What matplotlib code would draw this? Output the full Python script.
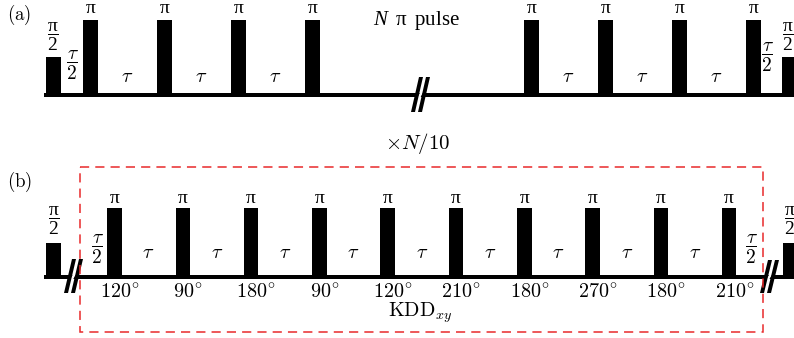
import matplotlib
matplotlib.use("Agg")
import matplotlib.pyplot as plt
from matplotlib.patches import Rectangle, Polygon

plt.rcParams['mathtext.fontset'] = 'cm'
plt.rcParams['font.family'] = 'serif'
# upright pi needs a unicode math font
plt.rcParams['mathtext.rm'] = 'Liberation Serif'
plt.rcParams['mathtext.it'] = 'Liberation Serif:italic'

# pulse counts shown on each side of the break in (a)
n_left_a = 4
n_right_a = 4
# KDD_xy phase of each pi pulse in (b)
kdd_phases = [120, 90, 180, 90, 120, 210, 180, 270, 180, 210]

W, H = 794, 338
fig = plt.figure(figsize=(W / 100, H / 100), dpi=100)
ax = fig.add_axes([0, 0, 1, 1])
ax.set_xlim(0, W)
ax.set_ylim(H, 0)
ax.axis('off')

FS = 14.5
RED = '#e8292b'


def pulse(x, base, h, w):
    ax.add_patch(Rectangle((x - w / 2, base - h), w, h, color='black', lw=0))


def baseline(x0, x1, base, t=4.4):
    ax.add_patch(Rectangle((x0, base - t / 2), x1 - x0, t, color='black', lw=0))


def brk(xb, ytop, ybot, dx=8, w=4, gap=7):
    # white gap first, then the two slanted strokes
    ax.add_patch(Polygon([(xb + w, ybot - 10), (xb + gap, ybot - 10),
                          (xb + gap + dx, ytop + 10), (xb + w + dx, ytop + 10)],
                         color='white', lw=0, zorder=3))
    for off in (0, gap):
        ax.add_patch(Polygon([(xb + off, ybot), (xb + off + w, ybot),
                              (xb + off + w + dx, ytop), (xb + off + dx, ytop)],
                             color='black', lw=0, zorder=4))


def txt(x, y, s, fs=FS, mf=None, **kw):
    kw.setdefault('ha', 'center')
    kw.setdefault('va', 'center')
    if mf:
        kw['math_fontfamily'] = mf
    ax.text(x, y, s, fontsize=fs, **kw)


PI = r'$\mathrm{\pi}$'
HALF_PI = r'$\dfrac{\mathrm{\pi}}{\mathrm{2}}$'
HALF_TAU = r'$\dfrac{\tau}{2}$'

# ---------------- (a) ----------------
base_a = 95
hpi_a, hhalf_a, w_a = 75, 38, 15
sp_a = 74
left_a = [90.5 + sp_a * k for k in range(n_left_a)]
right_a = [531.5 + sp_a * k for k in range(n_right_a)]

baseline(44, W, base_a)
pulse(53.5, base_a, hhalf_a, w_a)
pulse(789.5, base_a, hhalf_a, w_a)
for x in left_a + right_a:
    pulse(x, base_a, hpi_a, w_a)
    txt(x, 13, PI, fs=14, mf='custom', va='baseline')
for seq in (left_a, right_a):
    for x0, x1 in zip(seq[:-1], seq[1:]):
        txt((x0 + x1) / 2, 76, r'$\tau$')
txt(767, 57, HALF_TAU, fs=14)
txt(72, 65, HALF_TAU, fs=14)
txt(53, 37, HALF_PI, fs=14, mf='custom')
txt(788, 37, HALF_PI, fs=14, mf='custom')
brk(411, 77, 112)
txt(416, 21, r'$N\;\;\mathrm{\pi}\;\;\mathrm{pulse}$', fs=15, mf='custom')
txt(7, 15, r'$\mathrm{(a)}$', fs=13.5, ha='left')

txt(418, 143, r'$\times N/10$', fs=15)

# ---------------- (b) ----------------
base_b = 277
hpi_b, hhalf_b, w_b = 69, 34, 14.5
sp_b = 68.3
xs_b = [114.5 + sp_b * k for k in range(len(kdd_phases))]

baseline(44, W, base_b)
pulse(53.5, base_b, hhalf_b, w_b)
pulse(790.5, base_b, hhalf_b, w_b)
for x, ph in zip(xs_b, kdd_phases):
    pulse(x, base_b, hpi_b, w_b)
    txt(x, 203, PI, fs=14, mf='custom', va='baseline')
    txt(x + 5, 292, r'$%d^{\circ}$' % ph)
for x0, x1 in zip(xs_b[:-1], xs_b[1:]):
    txt((x0 + x1) / 2, 252, r'$\tau$')
txt(97, 249, HALF_TAU, fs=14)
txt(751, 249, HALF_TAU, fs=14)
txt(54, 221, HALF_PI, fs=14, mf='custom')
txt(790, 221, HALF_PI, fs=14, mf='custom')
brk(64, 259, 293)
brk(760, 260, 293)

ax.add_patch(Rectangle((80, 167), 683, 165, fill=False, edgecolor=RED,
                       lw=1.1, ls=(0, (6, 4)), zorder=5))
txt(420, 313, r'$\mathrm{KDD}_{xy}$')
txt(7, 182, r'$\mathrm{(b)}$', fs=13.5, ha='left')

fig.savefig('out.png', dpi=100)
